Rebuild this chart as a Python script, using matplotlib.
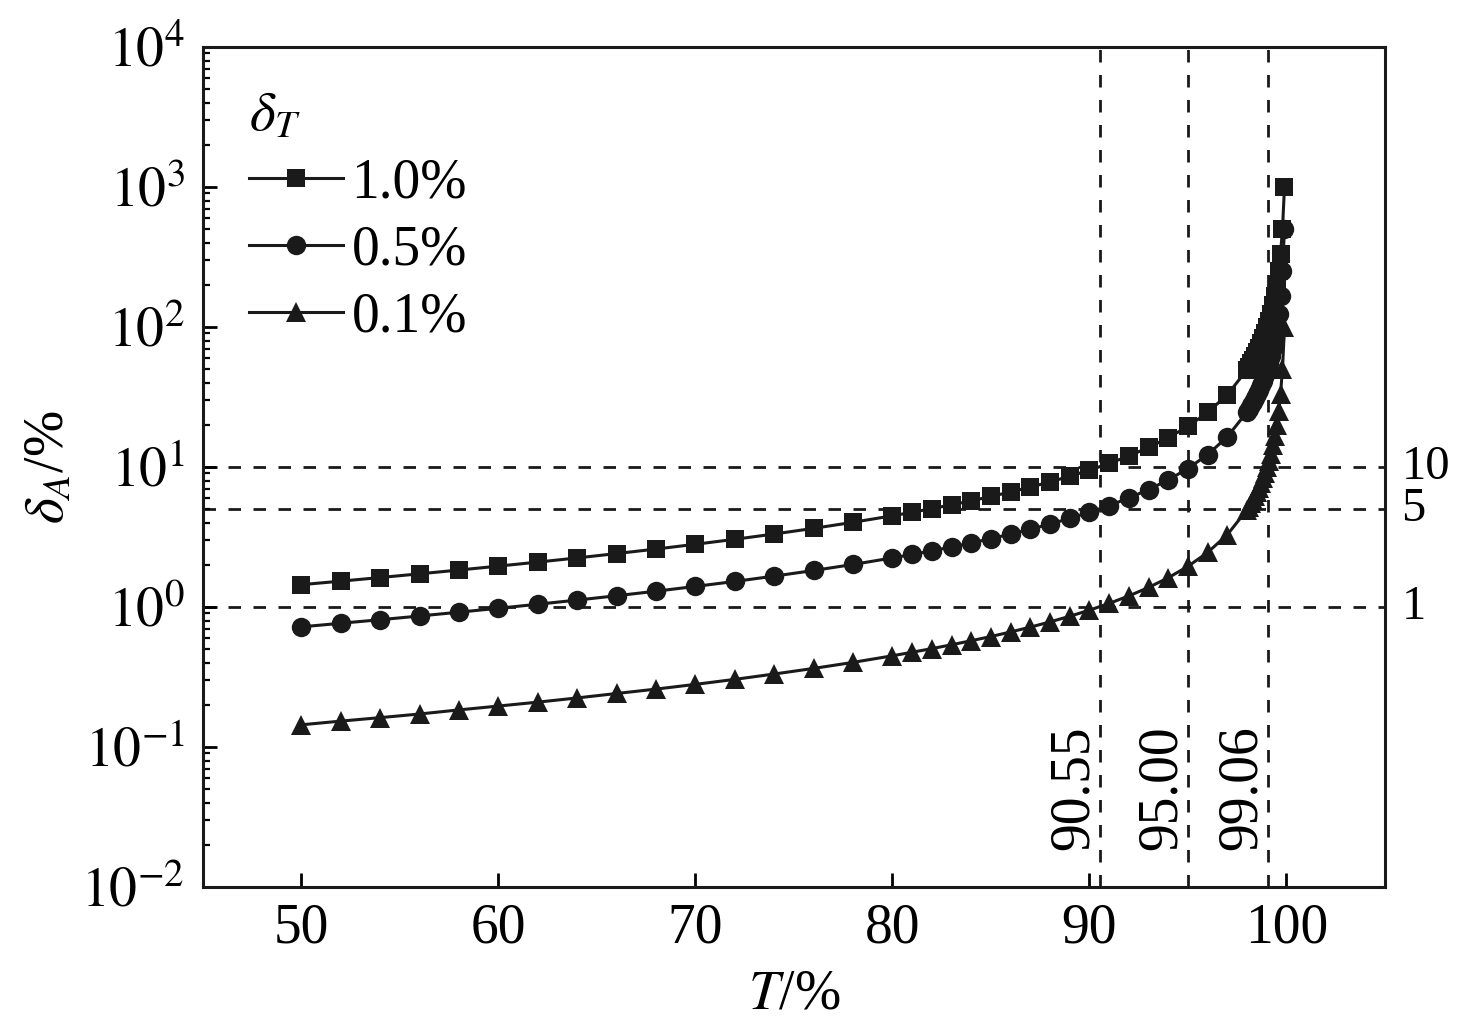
import matplotlib
matplotlib.use("Agg")
import matplotlib.pyplot as plt

plt.rcParams["font.family"] = ["Liberation Serif", "DejaVu Serif"]
plt.rcParams["mathtext.fontset"] = "stix"

# transmittance T (%)
T = [50, 52, 54, 56, 58, 60, 62, 64, 66, 68, 70, 72, 74, 76, 78,
     80, 81, 82, 83, 84, 85, 86, 87, 88, 89, 90, 91, 92, 93, 94, 95, 96, 97,
     98.0, 98.1, 98.2, 98.3, 98.4, 98.5, 98.6, 98.7, 98.8, 98.9,
     99.0, 99.1, 99.2, 99.3, 99.4, 99.5, 99.6, 99.7, 99.8, 99.9]

# relative error of absorbance, delta_A (%)
dA_10 = [1.443, 1.529, 1.623, 1.725, 1.836, 1.958, 2.092, 2.241, 2.407, 2.593,
         2.804, 3.044, 3.321, 3.644, 4.025,
         4.481, 4.746, 5.039, 5.367, 5.736, 6.153, 6.630, 7.181, 7.823, 8.581,
         9.491, 10.60, 11.99, 13.78, 16.16, 19.50, 24.50, 32.83,
         49.50, 52.13, 55.05, 58.32, 62.00, 66.16, 70.93, 76.42, 82.83, 90.41,
         99.50, 110.6, 124.5, 142.4, 166.2, 199.5, 249.5, 332.8, 499.5, 999.5]
dA_05 = [0.721, 0.765, 0.811, 0.862, 0.918, 0.979, 1.046, 1.120, 1.203, 1.296,
         1.402, 1.522, 1.661, 1.822, 2.012,
         2.241, 2.373, 2.520, 2.683, 2.868, 3.077, 3.315, 3.590, 3.911, 4.291,
         4.746, 5.302, 5.997, 6.890, 8.081, 9.748, 12.25, 16.42,
         24.75, 26.07, 27.53, 29.16, 31.00, 33.08, 35.47, 38.21, 41.41, 45.21,
         49.75, 55.30, 62.30, 71.20, 83.10, 99.80, 124.8, 166.4, 249.8, 499.8]
dA_01 = [0.144, 0.153, 0.162, 0.172, 0.184, 0.196, 0.209, 0.224, 0.241, 0.259,
         0.280, 0.304, 0.332, 0.364, 0.402,
         0.448, 0.475, 0.504, 0.537, 0.574, 0.615, 0.663, 0.718, 0.782, 0.858,
         0.949, 1.060, 1.199, 1.378, 1.616, 1.950, 2.450, 3.283,
         4.950, 5.213, 5.505, 5.832, 6.200, 6.616, 7.093, 7.642, 8.283, 9.041,
         9.950, 11.06, 12.45, 14.24, 16.62, 19.95, 24.95, 33.28, 49.95, 99.95]

series_labels = ["1.0%", "0.5%", "0.1%"]
h_levels = [10, 5, 1]
h_labels = ["10", "5", "1"]
v_levels = [90.55, 95.00, 99.06]
v_labels = ["90.55", "95.00", "99.06"]
y_ticks = [1e-2, 1e-1, 1e0, 1e1, 1e2, 1e3, 1e4]
y_ticklabels = [r"$10^{-2}$", r"$10^{-1}$", r"$10^{0}$", r"$10^{1}$",
                r"$10^{2}$", r"$10^{3}$", r"$10^{4}$"]

FS = 40
INK = "#1a1a1a"
fig = plt.figure(figsize=(14.76, 10.28), dpi=100)
ax = fig.add_axes([0.1375, 0.1372, 0.8008, 0.8171])

dash = (0, (4.5, 4.5))
for yv in h_levels:
    ax.axhline(yv, color=INK, lw=2.0, ls=dash, zorder=1)
for xv in v_levels:
    ax.axvline(xv, color=INK, lw=2.0, ls=dash, zorder=1)

ax.plot(T, dA_10, color=INK, lw=2.2, marker="s", ms=12.5, mew=0, label=series_labels[0], zorder=3)
ax.plot(T, dA_05, color=INK, lw=2.2, marker="o", ms=14, mew=0, label=series_labels[1], zorder=3)
ax.plot(T, dA_01, color=INK, lw=2.2, marker="^", ms=14, mew=0, label=series_labels[2], zorder=3)

ax.set_yscale("log")
ax.set_xlim(45, 105)
ax.set_ylim(1e-2, 1e4)
ax.set_xticks([50, 60, 70, 80, 90, 100])
ax.set_yticks(y_ticks)
ax.set_yticklabels(y_ticklabels)
ax.tick_params(axis="both", which="major", direction="in", labelsize=FS,
               length=10, width=2, top=False, right=False)
ax.tick_params(axis="x", which="major", pad=11)
ax.tick_params(axis="y", which="major", pad=13)
ax.tick_params(axis="y", which="minor", direction="in", length=5, width=1.6, right=False)
ax.tick_params(axis="x", which="minor", bottom=False, top=False)
for s in ax.spines.values():
    s.set_linewidth(2.2)
    s.set_color(INK)

ax.set_xlabel(r"$T$/%", fontsize=FS, labelpad=10)
ax.set_ylabel(r"$\delta_A$/%", fontsize=FS, labelpad=4)

# labels for the horizontal reference lines, outside the right spine
for yv, lab in zip(h_levels, h_labels):
    ax.text(1.014, yv, lab, transform=ax.get_yaxis_transform(), fontsize=35,
            ha="left", va="center")

# labels for the vertical reference lines
for xv, lab in zip(v_levels, v_labels):
    ax.text(xv - 1.35, 0.0184, lab, rotation=90, fontsize=FS, ha="center", va="bottom")

leg = ax.legend(loc="upper left", bbox_to_anchor=(0.02, 0.975), frameon=False,
                fontsize=FS, title=r"$\delta_T$", title_fontsize=FS,
                handlelength=1.7, handletextpad=0.15, labelspacing=0.27,
                borderaxespad=0.0, numpoints=1, alignment="left")

fig.savefig("out.png", dpi=100)
